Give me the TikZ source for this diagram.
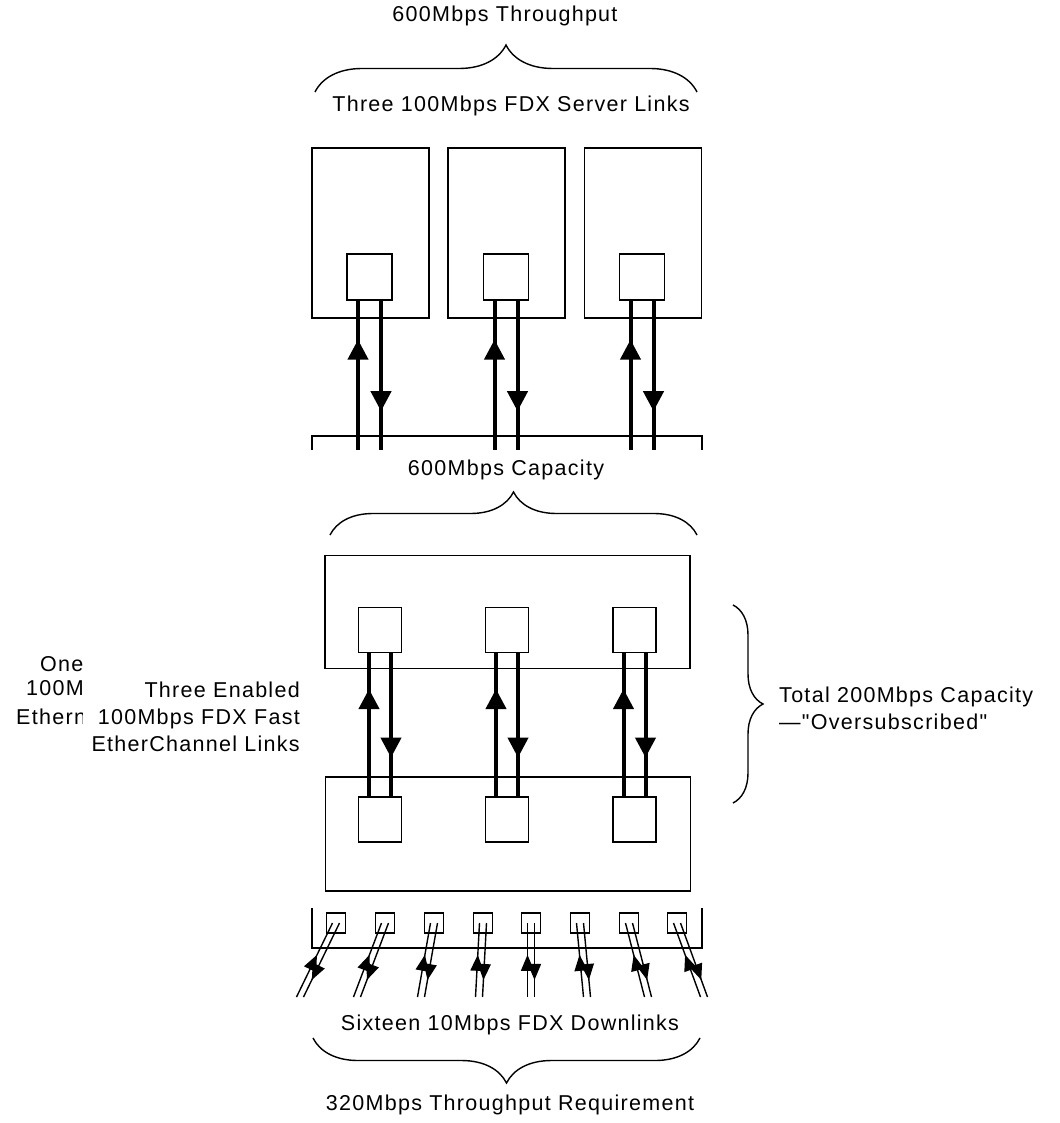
\documentclass[tikz,border=0pt]{standalone}
\usepackage{fontspec}
\setmainfont{Liberation Sans}[Ligatures=TeXOff, LetterSpace=6]
\usetikzlibrary{arrows.meta, calc, decorations.pathreplacing, decorations.markings}

\begin{document}
\begin{tikzpicture}[x=1pt, y=-1pt,
  box/.style={draw, line width=1.6pt, inner sep=0pt},
  server/.style={box, minimum width=117pt, minimum height=170pt},
  swbox/.style={box, minimum width=365pt, minimum height=113pt},
  port/.style={box, minimum width=43pt, minimum height=45pt},
  dport/.style={draw, line width=1.3pt, inner sep=0pt, minimum width=19pt, minimum height=20pt},
  link/.style={line width=4pt, postaction={decorate},
    decoration={markings, mark=at position #1 with {\arrow{Triangle[length=20pt,width=20pt]}}}},
  dlink/.style={line width=1.4pt, postaction={decorate},
    decoration={markings, mark=at position #1 with {\arrow{Triangle[length=16pt,width=13pt]}}}},
  lbl/.style={font=\fontsize{21.5}{27}\selectfont, inner sep=0pt},
  curly/.style={decorate, decoration={brace, amplitude=#1}, line width=1.4pt},
]
  \useasboundingbox (0,0) rectangle (1059,1123);

  % Servers
  \node[lbl] (thru) at (505,16) {600Mbps Throughput};
  \draw[curly=47] (315,92) -- (697,92);
  \node[lbl] (srvlinks) at (511,106) {Three 100Mbps FDX Server Links};
  \foreach \i/\x/\px in {1/370.5/369.5, 2/506.5/506, 3/643/642}{
    \node[server] (srv\i) at (\x,233) {};
    \node[port, minimum width=45pt, minimum height=46pt] (sp\i) at (\px,277) {};
  }

  % Top switch (cut off)
  \draw[line width=1.6pt] (312,450) |- (702,436) -- (702,450);
  \coordinate (cutline) at (0,450);
  \foreach \i in {1,2,3}{
    \coordinate (cut\i) at (sp\i.south |- cutline);
    \draw[link=0.74] ([xshift=-11.5pt]cut\i) -- ([xshift=-11.5pt]sp\i.south);
    \draw[link=0.74] ([xshift=11.5pt]sp\i.south) -- ([xshift=11.5pt]cut\i);
  }

  % EtherChannel between the two switches
  \node[lbl] (capacity) at (506,470) {600Mbps Capacity};
  \draw[curly=43] (330,535) -- (697,535);
  \node[swbox] (swa) at (507.5,612) {};
  \node[swbox, minimum height=114pt] (swb) at (508,834) {};
  \foreach \i/\x in {1/380, 2/507, 3/634.5}{
    \node[port] (up\i) at (\x,630) {};
    \node[port] (lp\i) at (\x,819.5) {};
    \draw[link=0.75] ([xshift=-11pt]lp\i.north) -- ([xshift=-11pt]up\i.south);
    \draw[link=0.73] ([xshift=11pt]up\i.south) -- ([xshift=11pt]lp\i.north);
  }
  \draw[curly=30] (733,605) -- (733,803);
  \node[lbl, anchor=west, align=left] (total) at (779,708)
       {Total 200Mbps Capacity\\—"Oversubscribed"};
  \node[lbl, anchor=east, align=right] (fec) at (300,717)
       {Three Enabled\\100Mbps FDX Fast\\EtherChannel Links};
  \begin{scope}
    \clip (0,640) rectangle (82,760);
    \node[lbl, anchor=west] (one1) at (40,664) {One};
    \node[lbl, anchor=west] (one2) at (26,690) {100Mbps};
    \node[lbl, anchor=west] (one3) at (16,717) {Ethernet};
  \end{scope}

  % Downlinks
  \draw[line width=1.6pt] (312,908) -- (312,948) -- (702,948) -- (702,908);
  \foreach \i/\x/\dx in {1/336/-36, 2/385/-28, 3/434/-13, 4/483/-4, 5/531/0, 6/580/7, 7/629/19, 8/677/27}{
    \node[dport] (dp\i) at (\x,923) {};
    \coordinate (de\i) at (\x+\dx,997);
    \draw[dlink=0.57] ([xshift=-3.5pt]de\i) -- ([xshift=-3.5pt]dp\i.center);
    \draw[dlink=0.77] ([xshift=3.5pt]dp\i.center) -- ([xshift=3.5pt]de\i);
  }
  \node[lbl] (down) at (510,1025) {Sixteen 10Mbps FDX Downlinks};
  \draw[curly=45] (700,1038) -- (313,1038);
  \node[lbl] (req) at (510,1105) {320Mbps Throughput Requirement};
\end{tikzpicture}
\end{document}
